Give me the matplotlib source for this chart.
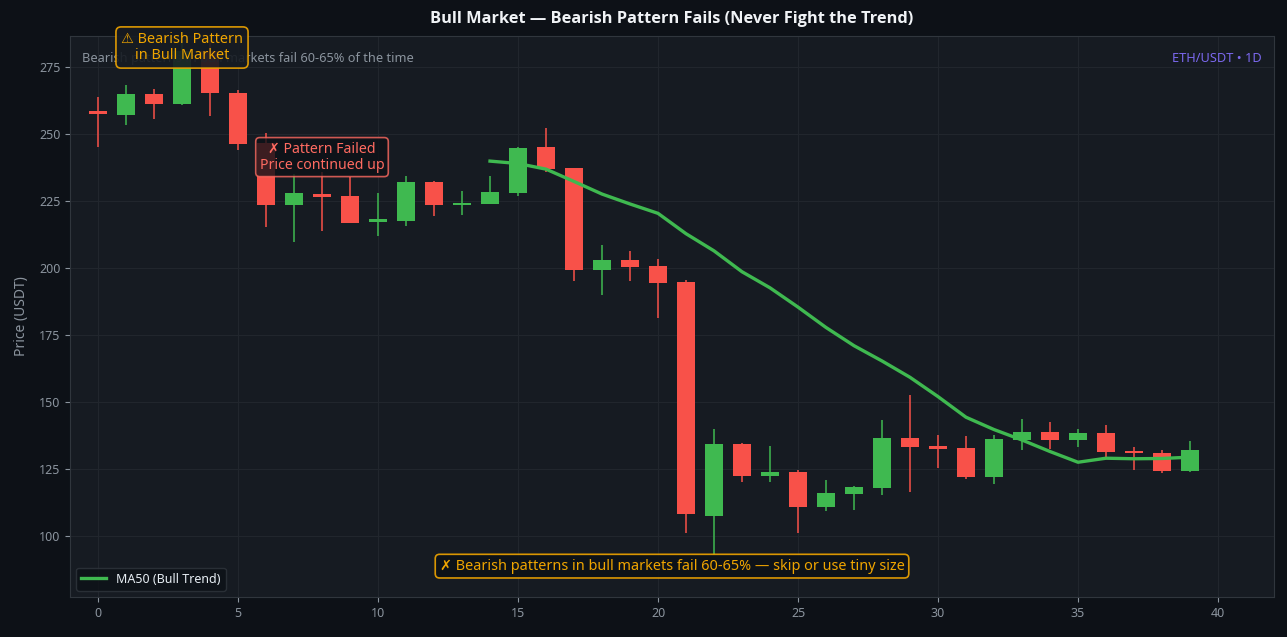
import numpy as np
import matplotlib
matplotlib.use("Agg")
import matplotlib.pyplot as plt
from matplotlib.patches import Rectangle

plt.rcParams['font.family'] = ['Noto Sans', 'DejaVu Sans']

# OHLC
opens = [258.5, 257.0, 265.0, 261.3, 281.0, 265.2, 246.5, 223.6, 227.7, 226.9,
         217.3, 217.6, 232.1, 223.6, 224.0, 228.1, 245.1, 237.3, 199.3, 203.0,
         200.7, 194.8, 107.6, 134.3, 122.5, 123.9, 110.9, 115.8, 118.0, 136.6,
         133.6, 132.8, 122.1, 135.9, 138.8, 135.9, 138.4, 131.7, 131.0, 124.4]
closes = [257.5, 265.0, 261.3, 281.0, 265.4, 246.4, 223.6, 228.0, 226.6, 216.9,
          218.2, 232.1, 223.6, 224.3, 228.4, 244.8, 236.9, 199.3, 203.0, 200.5,
          194.5, 108.0, 134.3, 122.5, 123.9, 110.9, 116.0, 118.3, 136.6, 133.3,
          132.6, 122.1, 136.2, 138.8, 135.9, 138.4, 131.5, 131.1, 124.4, 132.1]
highs = [264.0, 268.3, 266.8, 285.0, 285.0, 266.5, 250.4, 235.0, 236.0, 234.0,
         228.1, 234.4, 232.5, 228.8, 234.4, 245.3, 252.1, 237.5, 208.6, 206.5,
         203.4, 195.5, 140.0, 134.8, 133.7, 124.6, 121.0, 118.8, 143.3, 152.7,
         137.7, 137.3, 137.7, 143.7, 142.7, 140.0, 141.5, 133.3, 132.2, 135.6]
lows = [245.3, 253.4, 255.6, 260.8, 256.7, 244.0, 215.4, 209.8, 213.8, 216.9,
        212.0, 215.7, 219.4, 219.8, 224.0, 226.9, 235.9, 195.1, 190.0, 195.1,
        181.5, 101.2, 93.0, 120.0, 120.3, 101.2, 109.4, 109.8, 115.3, 116.5,
        125.4, 121.2, 119.5, 132.1, 132.5, 133.3, 129.4, 124.6, 123.4, 123.9]

ma_x = list(range(14, 40))
ma_vals = [239.9, 239.0, 236.9, 232.3, 227.6, 223.9, 220.4, 212.8, 206.4, 198.6,
           192.6, 185.4, 177.8, 171.0, 165.3, 159.2, 152.0, 144.3, 139.7, 135.8,
           131.5, 127.5, 129.0, 128.8, 128.9, 129.4]

BG = '#0d1117'
PANEL = '#161b22'
GREEN = '#3fb950'
RED = '#f85149'
ORANGE = '#f0a500'
MUTED = '#8b949e'

fig = plt.figure(figsize=(12.87, 6.37), dpi=100, facecolor=BG)
ax = fig.add_axes([0.0544, 0.0628, 0.9355, 0.8807])
ax.set_facecolor(PANEL)

w = 0.65
for i in range(len(opens)):
    o, c, h, l = opens[i], closes[i], highs[i], lows[i]
    col = GREEN if c >= o else RED
    ax.vlines(i, l, h, color=col, linewidth=1.1, zorder=2)
    body = max(abs(c - o), 0.6)
    ax.add_patch(Rectangle((i - w / 2, min(o, c)), w, body, facecolor=col,
                           edgecolor='none', zorder=3))

ax.plot(ma_x, ma_vals, color=GREEN, linewidth=2.4, label='MA50 (Bull Trend)', zorder=4)

ax.set_xlim(-1, 42)
ax.set_ylim(77.2, 286.6)
ax.set_xticks(range(0, 41, 5))
ax.set_yticks(range(100, 276, 25))
ax.grid(True, color='#21262d', linewidth=0.8)
ax.set_axisbelow(True)
for s in ax.spines.values():
    s.set_color('#30363d')
ax.tick_params(colors=MUTED, labelsize=9)
ax.set_ylabel('Price (USDT)', color=MUTED, fontsize=10, labelpad=7)

ax.set_title('Bull Market — Bearish Pattern Fails (Never Fight the Trend)',
             color='#f0f3f6', fontsize=11.8, fontweight='bold', pad=9,
             family=['Open Sans', 'DejaVu Sans'])

ax.text(0.01, 0.96, 'Bearish patterns in bull markets fail 60-65% of the time',
        transform=ax.transAxes, color=MUTED, fontsize=9.2, va='center', ha='left')
ax.text(0.99, 0.96, 'ETH/USDT • 1D', transform=ax.transAxes, color='#7b68ee',
        fontsize=9.2, va='center', ha='right')

ax.text(3, 282.3, '⚠ Bearish Pattern\nin Bull Market', color=ORANGE, fontsize=10.4,
        ha='center', va='center', zorder=6, linespacing=1.1,
        bbox=dict(boxstyle='round,pad=0.35', facecolor=PANEL, edgecolor=ORANGE,
                  alpha=0.9, linewidth=1.2))
ax.text(8, 241.4, '✗ Pattern Failed\nPrice continued up', color='#ff6b61', fontsize=10.2,
        ha='center', va='center', zorder=6, linespacing=1.1,
        bbox=dict(boxstyle='round,pad=0.28', facecolor='#0d1117', edgecolor='#ff6b61',
                  alpha=0.8, linewidth=1.2))
ax.text(0.5, 0.055, '✗ Bearish patterns in bull markets fail 60-65% — skip or use tiny size',
        transform=ax.transAxes, color=ORANGE, fontsize=10.4, ha='center', va='center',
        zorder=6, bbox=dict(boxstyle='round,pad=0.3', facecolor=BG, edgecolor=ORANGE,
                            alpha=0.9, linewidth=1.2))

leg = ax.legend(loc='lower left', fontsize=9, facecolor=BG, edgecolor='#30363d',
                labelcolor='#e6edf3')

fig.savefig('out.png', dpi=100, facecolor=BG)
